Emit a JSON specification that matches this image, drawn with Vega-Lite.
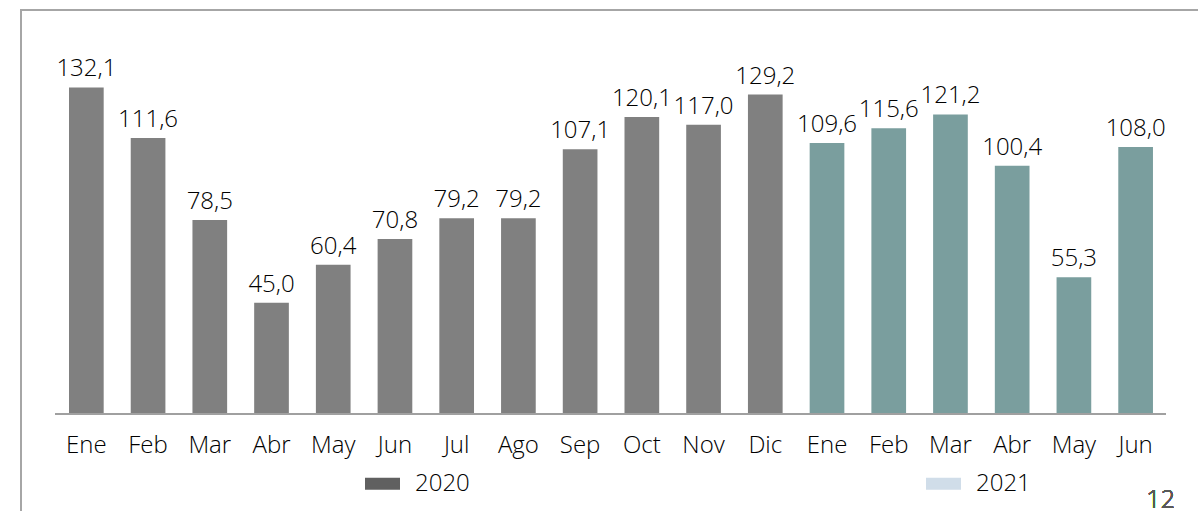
{
  "$schema": "https://vega.github.io/schema/vega-lite/v6.json",
  "autosize": {"type": "none"},
  "width": 1190,
  "height": 520,
  "padding": {"left": 21, "top": 10, "right": -13, "bottom": -19},
  "background": "white",
  "config": {
    "view": {"stroke": "#a6a6a6", "strokeWidth": 2},
    "font": "Open Sans",
    "locale": {"number": {"decimal": ",", "thousands": ".", "grouping": [3], "currency": ["", ""]}}
  },
  "data": {
    "values": [
      {"mes": "Ene 2020", "anio": "2020", "valor": 132.1},
      {"mes": "Feb 2020", "anio": "2020", "valor": 111.6},
      {"mes": "Mar 2020", "anio": "2020", "valor": 78.5},
      {"mes": "Abr 2020", "anio": "2020", "valor": 45.0},
      {"mes": "May 2020", "anio": "2020", "valor": 60.4},
      {"mes": "Jun 2020", "anio": "2020", "valor": 70.8},
      {"mes": "Jul 2020", "anio": "2020", "valor": 79.2},
      {"mes": "Ago 2020", "anio": "2020", "valor": 79.2},
      {"mes": "Sep 2020", "anio": "2020", "valor": 107.1},
      {"mes": "Oct 2020", "anio": "2020", "valor": 120.1},
      {"mes": "Nov 2020", "anio": "2020", "valor": 117.0},
      {"mes": "Dic 2020", "anio": "2020", "valor": 129.2},
      {"mes": "Ene 2021", "anio": "2021", "valor": 109.6},
      {"mes": "Feb 2021", "anio": "2021", "valor": 115.6},
      {"mes": "Mar 2021", "anio": "2021", "valor": 121.2},
      {"mes": "Abr 2021", "anio": "2021", "valor": 100.4},
      {"mes": "May 2021", "anio": "2021", "valor": 55.3},
      {"mes": "Jun 2021", "anio": "2021", "valor": 108.0}
    ]
  },
  "encoding": {
    "x": {
      "field": "mes",
      "type": "nominal",
      "sort": null,
      "scale": {"paddingInner": 0.438, "paddingOuter": 0.859, "align": 0.4527},
      "axis": {
        "title": null,
        "domain": false,
        "ticks": false,
        "labelAngle": 0,
        "offset": -116,
        "labelPadding": 19,
        "labelFont": "Open Sans",
        "labelFontSize": 24,
        "labelFontWeight": 300,
        "labelColor": "#000000",
        "labelExpr": "slice(datum.label, 0, 3)"
      }
    },
    "y": {
      "type": "quantitative",
      "scale": {"domain": [-46.93, 163.43], "nice": false, "zero": false},
      "axis": null
    }
  },
  "layer": [
    {
      "mark": {"type": "bar"},
      "encoding": {
        "y": {"field": "valor"},
        "color": {
          "field": "anio",
          "type": "nominal",
          "scale": {"domain": ["2020", "2021"], "range": ["#808080", "#7a9e9e"]},
          "legend": null
        }
      }
    },
    {
      "mark": {"type": "square", "size": 0, "strokeWidth": 0},
      "encoding": {
        "y": {"field": "valor"},
        "color": {
          "field": "anio",
          "type": "nominal",
          "scale": {"domain": ["2020", "2021"], "range": ["#606060", "#d0dde9"]},
          "legend": {
            "title": null,
            "orient": "none",
            "legendX": 344,
            "legendY": 456,
            "direction": "horizontal",
            "columns": 2,
            "columnPadding": 456,
            "padding": 0,
            "symbolType": "M-1,-0.343H1V0.343H-1Z",
            "symbolSize": 1225,
            "symbolOpacity": 1,
            "symbolStrokeWidth": 0,
            "labelOffset": 15,
            "labelFont": "Open Sans",
            "labelFontSize": 24,
            "labelFontWeight": 300,
            "labelColor": "#000000"
          }
        }
      }
    },
    {
      "mark": {"type": "text", "baseline": "alphabetic", "dy": -11, "fontSize": 24, "fontWeight": 300, "color": "#000000"},
      "encoding": {
        "y": {"field": "valor"},
        "text": {"field": "valor", "type": "quantitative", "format": ".1f"}
      }
    },
    {
      "mark": {"type": "rule", "color": "#a0a0a0", "strokeWidth": 2},
      "encoding": {
        "x": {"datum": "Ene 2020", "bandPosition": -0.4},
        "x2": {"datum": "Jun 2021", "bandPosition": 1.37},
        "y": {"datum": 0}
      }
    },
    {
      "mark": {"type": "text", "baseline": "alphabetic", "dx": 25, "fontSize": 25, "fontWeight": 300, "color": "#595959"},
      "encoding": {
        "x": {"datum": "Jun 2021"},
        "y": {"datum": -38},
        "text": {"value": "12"}
      }
    }
  ],
  "resolve": {"scale": {"color": "independent"}, "legend": {"color": "independent"}}
}
